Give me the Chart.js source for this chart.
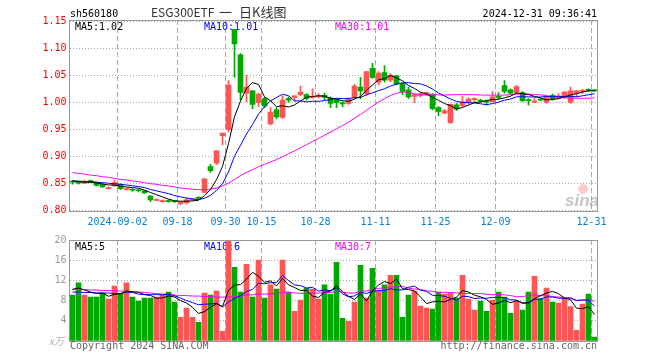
<!DOCTYPE html>
<html>
<head>
<meta charset="utf-8">
<script src="https://cdn.jsdelivr.net/npm/chart.js@4.4.1/dist/chart.umd.min.js"></script>
<style>
body { margin: 0; background: #fff; width: 660px; height: 360px; overflow: hidden; position: relative; }
canvas { position: absolute; left: 0; }
#price { top: 0; }
#vol { top: 230px; }
</style>
</head>
<body>
<canvas id="price" width="660" height="230"></canvas>
<canvas id="vol" width="660" height="130"></canvas>
<script>
//Trading days in the window (2024-08-21 .. 2024-12-31)
const days = [
  '08-21','08-22','08-23','08-26','08-27','08-28','08-29','08-30',
  '09-02','09-03','09-04','09-05','09-06','09-09','09-10','09-11','09-12','09-13',
  '09-18','09-19','09-20','09-23','09-24','09-25','09-26','09-27','09-30',
  '10-08','10-09','10-10','10-11','10-14','10-15','10-16','10-17','10-18',
  '10-21','10-22','10-23','10-24','10-25','10-28','10-29','10-30','10-31',
  '11-01','11-04','11-05','11-06','11-07','11-08','11-11','11-12','11-13','11-14','11-15',
  '11-18','11-19','11-20','11-21','11-22','11-25','11-26','11-27','11-28','11-29',
  '12-02','12-03','12-04','12-05','12-06','12-09','12-10','12-11','12-12','12-13',
  '12-16','12-17','12-18','12-19','12-20','12-23','12-24','12-25','12-26','12-27','12-30','12-31'
];

//Which days get a date label + dashed grid line
const tickDays = ['09-02','09-18','09-30','10-15','10-28','11-11','11-25','12-09','12-31'];
const tickText = ['2024-09-02','09-18','09-30','10-15','10-28','11-11','11-25','12-09','12-31'];

const open = [
  0.853,0.851,0.850,0.855,0.851,0.848,0.840,0.845,0.848,0.838,
  0.838,0.837,0.836,0.826,0.818,0.816,0.817,0.817,0.812,0.814,
  0.819,0.823,0.833,0.881,0.887,0.938,0.949,1.135,1.088,1.017,
  1.021,0.999,1.007,0.960,0.986,0.972,1.007,1.009,1.014,1.014,
  1.009,1.010,1.013,1.008,1.004,0.999,0.998,1.009,1.028,1.016,
  1.063,1.037,1.055,1.041,1.049,1.035,1.023,1.011,1.012,1.013,
  1.014,0.990,0.980,0.962,0.995,0.994,0.999,1.005,1.004,1.002,
  1.001,1.011,1.031,1.023,1.018,1.018,1.005,1.000,1.006,1.000,
  1.013,1.007,1.008,1.000,1.017,1.020,1.024,1.023
];
const high = [
  0.855,0.853,0.856,0.856,0.852,0.849,0.843,0.856,0.849,0.841,
  0.840,0.839,0.837,0.827,0.821,0.819,0.819,0.818,0.816,0.822,
  0.822,0.825,0.858,0.885,0.910,0.943,1.040,1.135,1.090,1.050,
  1.022,1.017,1.009,0.990,0.990,1.012,1.010,1.012,1.030,1.016,
  1.025,1.016,1.017,1.010,1.006,1.001,1.008,1.033,1.046,1.057,
  1.072,1.057,1.068,1.053,1.050,1.036,1.028,1.015,1.018,1.019,
  1.016,0.992,0.987,0.997,0.998,1.011,1.008,1.008,1.006,1.004,
  1.020,1.018,1.040,1.025,1.031,1.020,1.007,1.007,1.008,1.012,
  1.015,1.016,1.020,1.028,1.022,1.024,1.025,1.024
];
const low = [
  0.848,0.848,0.849,0.851,0.845,0.842,0.839,0.844,0.838,0.837,
  0.835,0.834,0.831,0.816,0.817,0.815,0.815,0.814,0.810,0.811,
  0.818,0.821,0.832,0.870,0.885,0.921,0.945,1.046,1.005,1.001,
  0.988,0.992,0.990,0.958,0.969,0.970,1.000,1.002,1.012,1.004,
  1.007,1.008,1.005,0.990,0.990,0.992,0.996,1.007,1.006,1.012,
  1.044,1.032,1.037,1.038,1.032,1.014,1.007,0.999,1.010,1.012,
  0.986,0.975,0.979,0.961,0.985,0.992,0.997,0.999,1.000,0.995,
  1.000,1.006,1.017,1.015,1.016,1.001,0.995,0.999,1.003,0.998,
  1.004,1.006,1.007,0.998,1.010,1.016,1.020,1.020
];
const close = [
  0.852,0.850,0.852,0.852,0.846,0.843,0.841,0.851,0.840,0.840,
  0.837,0.836,0.832,0.819,0.819,0.817,0.816,0.816,0.815,0.819,
  0.820,0.822,0.858,0.873,0.910,0.943,1.032,1.108,1.018,1.028,
  0.996,1.015,0.993,0.982,0.973,1.004,1.004,1.012,1.019,1.007,
  1.011,1.011,1.009,0.998,0.999,0.997,1.006,1.030,1.021,1.057,
  1.046,1.054,1.041,1.050,1.034,1.020,1.010,1.014,1.015,1.018,
  0.988,0.983,0.984,0.996,0.987,1.001,1.006,1.007,1.002,1.000,
  1.010,1.009,1.020,1.017,1.029,1.003,1.003,1.002,1.004,1.010,
  1.006,1.012,1.019,1.021,1.021,1.022,1.022,1.021
];

//Volume, in 10k ("万")
const volume = [
  9.1,11.5,9.1,8.7,8.7,9.5,8.3,10.9,9.3,11.5,
  8.7,7.9,8.5,8.5,8.7,9.1,9.7,7.7,4.7,6.5,
  4.7,3.7,9.5,9.1,9.9,1.9,19.8,14.6,9.7,15.2,
  8.7,16.0,8.5,11.1,10.3,16.0,9.7,5.9,8.1,10.5,
  10.3,8.3,11.1,9.3,15.6,4.5,3.9,7.7,15.0,8.5,
  14.4,9.9,11.1,13.0,13.0,4.7,9.1,9.9,6.9,6.5,
  6.3,9.7,9.3,9.5,8.5,13.0,8.3,6.1,7.9,5.9,
  8.1,9.7,8.7,5.5,7.9,6.1,9.7,12.8,8.4,10.5,
  7.7,7.5,8.4,6.8,2.1,7.3,9.3,0.8
];

const ma5Head = [0.854,0.853,0.852,0.852];
const ma10Head = [0.854,0.854,0.853,0.853,0.852,0.851,0.850,0.849,0.848];
const ma30Head = [
  0.870,0.868,0.867,0.865,0.864,0.862,0.861,0.859,0.857,0.856,
  0.854,0.853,0.851,0.849,0.848,0.846,0.845,0.843,0.841,0.840,
  0.839,0.838,0.838,0.839,0.841,0.845,0.850,0.857,0.864
];
const vma5Head = [10.2,10.5,10.1,9.7];
const vma10Head = [9.7,9.7,9.6,9.6,9.5,9.5,9.5,9.4,9.4];
const vma30Head = [
  10.3,10.2,10.2,10.1,10.1,10.0,10.0,9.9,9.9,9.8,
  9.7,9.7,9.6,9.5,9.4,9.3,9.2,9.1,9.0,9.0,
  8.9,8.9,8.8,8.8,8.7,8.7,8.7,8.8,8.8
];

//Legend texts as shown on the chart
const maNames = ['MA5', 'MA10', 'MA30'];
const priceMaText = ['1.02', '1.01', '1.01'];
const volMaText = ['5', '6', '7'];

const priceTicks = [0.80, 0.85, 0.90, 0.95, 1.00, 1.05, 1.10, 1.15];
const volTicks = [0, 4, 8, 12, 16, 20];

const mono = "'DejaVu Sans Mono', monospace";
const cjk = "'Noto Sans CJK SC'";
const RED = '#ff5555';
const GREEN = '#00a800';
const maColors = ['#000000', '#0000ff', '#ff00ff'];

function movingAvg(src, n, head)
{
    return src.map(function(v, i) {
        if (i < n - 1) return head[i];
        let s = 0;
        for (let k = i - n + 1; k <= i; k++) s += src[k];
        return s / n;
    });
}

const candleColor = close.map((c, i) => c >= open[i] ? RED : GREEN);

const priceMA = [movingAvg(close, 5, ma5Head), movingAvg(close, 10, ma10Head), movingAvg(close, 30, ma30Head)];
const volMA = [movingAvg(volume, 5, vma5Head), movingAvg(volume, 10, vma10Head), movingAvg(volume, 30, vma30Head)];

//Gray frame round the plot area
const framePlugin = {
    id: 'frame',
    afterDraw(chart) {
        const a = chart.chartArea;
        const ctx = chart.ctx;
        const l = Math.floor(a.left) + 0.5, r = Math.floor(a.right) + 0.5;
        const t = Math.floor(a.top) + 0.5, b = Math.floor(a.bottom) + 0.5;
        ctx.save();
        ctx.strokeStyle = '#999';
        ctx.lineWidth = 1;
        ctx.strokeRect(l, t, r - l, b - t);
        ctx.restore();
    }
};

function drawItems(ctx, items)
{
    ctx.save();
    items.forEach(function(it) {
        if (it.circle) {
            ctx.fillStyle = it.color;
            ctx.beginPath();
            ctx.arc(it.x, it.y, it.circle, 0, Math.PI * 2);
            ctx.fill();
            return;
        }
        ctx.font = it.font || ('10px ' + mono);
        ctx.fillStyle = it.color || '#000';
        ctx.textAlign = it.align || 'left';
        ctx.textBaseline = 'alphabetic';
        ctx.fillText(it.text, it.x, it.y);
    });
    ctx.restore();
}

//Free texts: legends go under the marks, header/footer on top
const textPlugin = {
    id: 'texts',
    beforeDatasetsDraw(chart, args, opts) {
        drawItems(chart.ctx, opts.under);
    },
    afterDraw(chart, args, opts) {
        drawItems(chart.ctx, opts.items);
    }
};

function isTickDay(i)
{
    return tickDays.indexOf(days[i]) >= 0;
}

function xAxis(showLabels, height)
{
    return {
        offset: true,
        grid: {
            offset: true,
            drawTicks: false,
            color: c => isTickDay(c.index) ? '#aaa' : 'rgba(0,0,0,0)'
        },
        border: { display: false, dash: [5, 3] },
        ticks: {
            display: showLabels,
            autoSkip: false,
            maxRotation: 0,
            padding: 5,
            labelOffset: -3,
            color: '#0a80d8',
            font: { family: mono, size: 10 },
            callback: function(v, i) {
                const k = tickDays.indexOf(days[i]);
                return k < 0 ? '' : tickText[k];
            }
        },
        afterFit: s => { s.height = height; }
    };
}

function maLines(series)
{
    return series.map((d, k) => ({
        type: 'line',
        data: d,
        borderColor: maColors[k],
        borderWidth: 1,
        pointRadius: 0,
        tension: 0,
        order: 0
    }));
}

function legendItems(values, y)
{
    const xs = [75, 204, 335];
    return maNames.map((n, k) => ({ text: n + ':' + values[k], x: xs[k], y: y, color: maColors[k] }));
}

//Price chart
new Chart(document.getElementById('price'), {
    type: 'bar',
    data: {
        labels: days,
        datasets: maLines(priceMA).concat([
            {
                data: close.map((c, i) => [open[i], c]),
                backgroundColor: candleColor,
                barThickness: 5,
                minBarLength: 1,
                grouped: false,
                order: 1
            },
            {
                data: low.map((l, i) => [l, high[i]]),
                backgroundColor: candleColor,
                barThickness: 1,
                grouped: false,
                order: 2
            }
        ])
    },
    options: {
        responsive: false,
        animation: false,
        devicePixelRatio: 1,
        layout: { padding: { left: 0, right: 62.5, top: 20, bottom: 0 } },
        plugins: {
            legend: { display: false },
            tooltip: { enabled: false },
            texts: {
                under: legendItems(priceMaText, 30).concat([
                    { text: 'sina', x: 565, y: 206, color: 'rgba(150,150,150,0.55)', font: "italic bold 17px 'Liberation Sans'" },
                    { circle: 5, x: 583, y: 189, color: 'rgba(255,110,110,0.35)' }
                ]),
                items: [
                    { text: 'sh560180', x: 70, y: 17 },
                    { text: 'ESG300ETF', x: 151, y: 17, color: '#333', font: '12px ' + cjk },
                    { text: '一', x: 219, y: 17, color: '#333', font: '13px ' + cjk },
                    { text: '日K线图', x: 239, y: 17, color: '#333', font: '13px ' + cjk },
                    { text: '2024-12-31 09:36:41', x: 597, y: 17, align: 'right' }
                ]
            }
        },
        scales: {
            x: xAxis(true, 19),
            y: {
                min: 0.7985,
                max: 1.1524,
                afterBuildTicks: s => { s.ticks = priceTicks.map(v => ({ value: v })); },
                grid: { color: '#aaa', drawTicks: false },
                border: { display: false, dash: [1, 2] },
                ticks: {
                    padding: 3,
                    color: '#ff0000',
                    font: { family: mono, size: 10 },
                    callback: v => v.toFixed(2)
                },
                afterFit: s => { s.width = 69.5; }
            }
        }
    },
    plugins: [framePlugin, textPlugin]
});

//Volume chart
new Chart(document.getElementById('vol'), {
    type: 'bar',
    data: {
        labels: days,
        datasets: maLines(volMA).concat([
            {
                data: volume,
                backgroundColor: candleColor,
                barThickness: 5,
                grouped: false,
                order: 1
            }
        ])
    },
    options: {
        responsive: false,
        animation: false,
        devicePixelRatio: 1,
        layout: { padding: { left: 0, right: 62.5, top: 10, bottom: 0 } },
        plugins: {
            legend: { display: false },
            tooltip: { enabled: false },
            texts: {
                under: legendItems(volMaText, 20),
                items: [
                    { text: 'x万', x: 49, y: 115, color: '#b0b0b0', font: 'italic 10px ' + cjk },
                    { text: 'Copyright 2024 SINA.COM', x: 70, y: 119, color: '#666' },
                    { text: 'http://finance.sina.com.cn', x: 597, y: 119, color: '#666', align: 'right' }
                ]
            }
        },
        scales: {
            x: xAxis(false, 19),
            y: {
                min: 0,
                max: 20,
                afterBuildTicks: s => { s.ticks = volTicks.map(v => ({ value: v })); },
                grid: { color: '#aaa', drawTicks: false },
                border: { display: false, dash: [1, 2] },
                ticks: {
                    padding: 3,
                    color: '#999',
                    font: { family: mono, size: 10 },
                    callback: v => v === 0 ? '' : String(v)
                },
                afterFit: s => { s.width = 69.5; }
            }
        }
    },
    plugins: [framePlugin, textPlugin]
});
</script>
</body>
</html>
